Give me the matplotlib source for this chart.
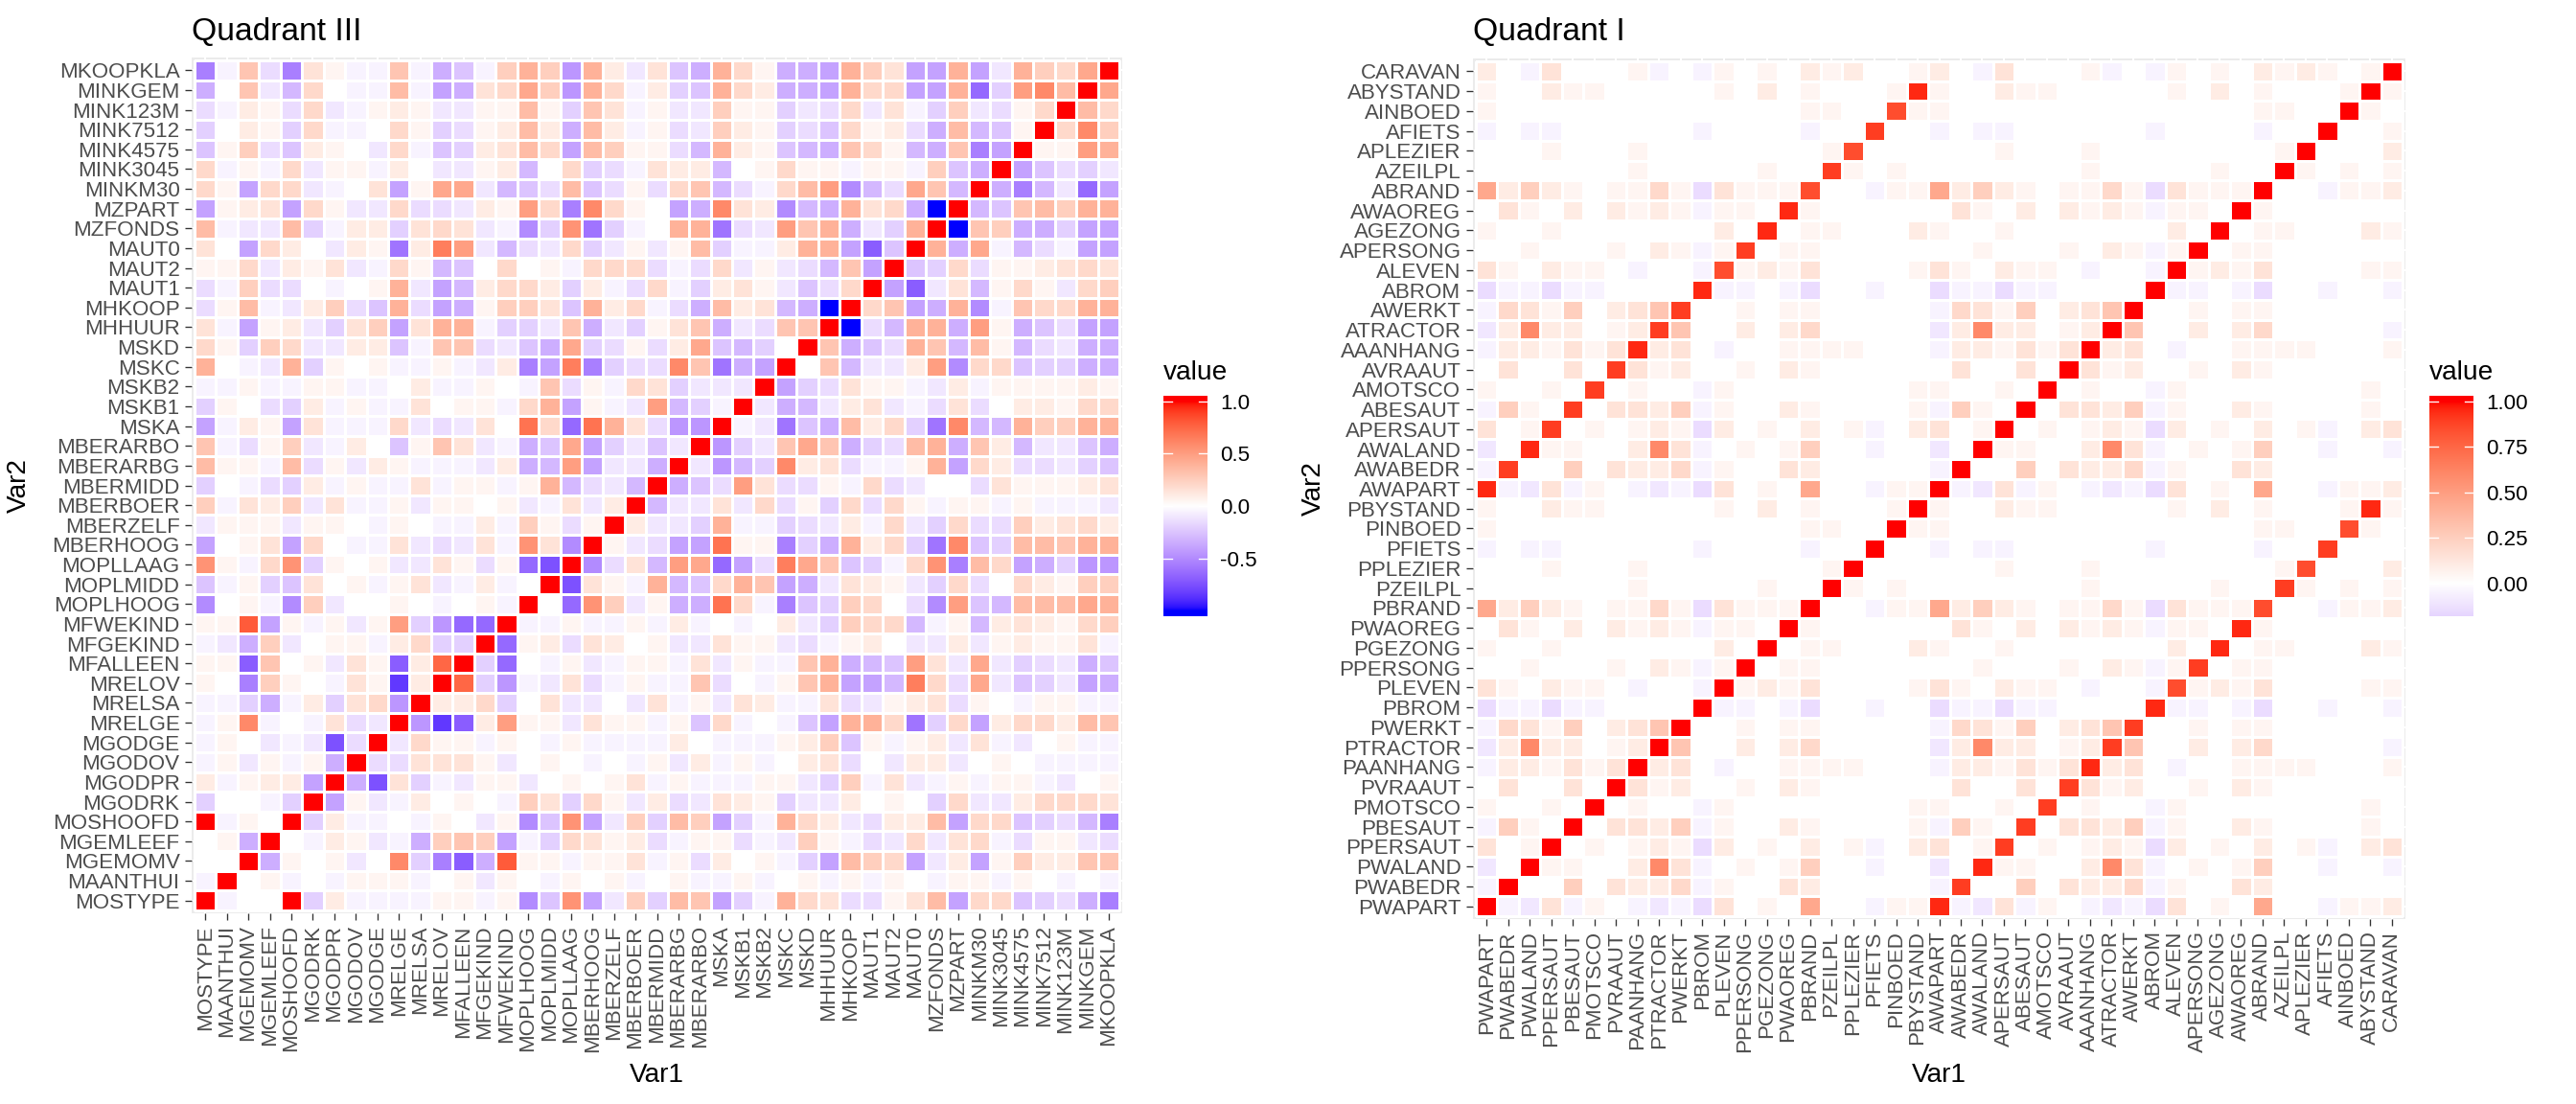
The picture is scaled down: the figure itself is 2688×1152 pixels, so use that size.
import numpy as np
import matplotlib
matplotlib.use("Agg")
import matplotlib.pyplot as plt
from matplotlib.colors import ListedColormap, Normalize

plt.rcParams['font.family'] = ['Liberation Sans', 'DejaVu Sans']

W, H, DPI = 2688, 1152, 192

# ---- data -----------------------------------------------------------------
left_vars = ["MOSTYPE", "MAANTHUI", "MGEMOMV", "MGEMLEEF", "MOSHOOFD", "MGODRK",
             "MGODPR", "MGODOV", "MGODGE", "MRELGE", "MRELSA", "MRELOV", "MFALLEEN",
             "MFGEKIND", "MFWEKIND", "MOPLHOOG", "MOPLMIDD", "MOPLLAAG", "MBERHOOG",
             "MBERZELF", "MBERBOER", "MBERMIDD", "MBERARBG", "MBERARBO", "MSKA",
             "MSKB1", "MSKB2", "MSKC", "MSKD", "MHHUUR", "MHKOOP", "MAUT1", "MAUT2",
             "MAUT0", "MZFONDS", "MZPART", "MINKM30", "MINK3045", "MINK4575",
             "MINK7512", "MINK123M", "MINKGEM", "MKOOPKLA"]

p_vars = ["PWAPART", "PWABEDR", "PWALAND", "PPERSAUT", "PBESAUT", "PMOTSCO",
          "PVRAAUT", "PAANHANG", "PTRACTOR", "PWERKT", "PBROM", "PLEVEN",
          "PPERSONG", "PGEZONG", "PWAOREG", "PBRAND", "PZEILPL", "PPLEZIER",
          "PFIETS", "PINBOED", "PBYSTAND"]
a_vars = ["AWAPART", "AWABEDR", "AWALAND", "APERSAUT", "ABESAUT", "AMOTSCO",
          "AVRAAUT", "AAANHANG", "ATRACTOR", "AWERKT", "ABROM", "ALEVEN",
          "APERSONG", "AGEZONG", "AWAOREG", "ABRAND", "AZEILPL", "APLEZIER",
          "AFIETS", "AINBOED", "ABYSTAND"]
right_vars = p_vars + a_vars + ["CARAVAN"]

# cell codes: '.' = 0, 'A'..'T' = +0.05..+1.00,
# 'a'..'t' = -0.05..-1.00 (steps of 0.05); row i lists columns 0..i-1
left_lower = [
    "a",
    "..",
    ".Ag",
    "TaA.",
    "d..ad",
    "BaABBh",
    "aAbAaAg",
    "aA.baboc",
    "aALa.aCcb",
    "aadgaBdCDi",
    "A.kEA.aCAqB",
    "AAnF.AbCAnBO",
    "abgEb.AAaBDdd",
    "AAPhAaAbAJdimm",
    "j.AajEb..A.a.Aa",
    "eaAdeC.AaACbaBa.",
    "KAaDKdA.AbbCAcAmo",
    "h.AChD.aaCbcbCaKCj",
    "bAAAbAA.aA.aaBaEAcA",
    "EaCBEbCaaAbAA.AbaCbB",
    "d.acdBaAaaCaAAaAHfcbf",
    "GAAaGcAbBAaaabBgfJhbbg",
    "FacAEbaB.eAFCbageIhdbeb",
    "haBAhCaaaDbcbC.NDmNHCcii",
    "dA.cdBaAaaC.AAaDHhAabJfda",
    "aaAaaAAaa.BaaA.aFcAaDCdbbb",
    "H.abHdA.AaaAabBkhMkdccLFlgh",
    "DAdEDbbBBeaFFcbegIdcAcBIefd.",
    "CahABbdCEhCHHaddbFgbdACFgbcFF",
    "cAGabBEceHchgAEECeHBDacgGBCfgt",
    "caEcc.a.AHbhfBDDBdBacDadBCAbecD",
    "AADbBACbaDAfe.D.AaDDDcacDbAbcfFh",
    "C.hDB.bBAlBMJbfcbDdbAbAGdaaBHHhne",
    "GabbGdaBBdCDCbajdKlda.HHlcbJFHgbdH",
    "hABChDAbbDccbBAJDkLDA.hgLCBjfgHCDgt",
    "DAhDDba.ChAIIbfecGecAcDFfcaDGJjfcIFf",
    "DaAaDbAAaB.bbABf.DdcaCBBf.ADAAaAAaEeg",
    "eAEceBA.bDaedBCGDhGEAAcfHBAefgFDAfgFkh",
    "d.BAdDaa.DAdcABGBgGBaAcbEBAdceDABcgGfeA",
    "caBAcDbaABAbbAAGAdFCaAbbEAAdbcDbCadEbcAD",
    "g.FbfD.aaGahgCDIEiHDaBdeHDBgghHDDhhHmdJLG",
    "kaFckCAaaFageaEHEiHBbCegHDAgghHEChhHhbHEDI",
]

# P-block (the A-block and the P-vs-A block look the same in the picture)
pp_lower = [
    "a",
    "b.",
    "C.A",
    "aEA.",
    "A..A.",
    ".C..C.",
    "aBBACAC",
    "bBLBB.AB",
    "aDCAE.BCF",
    "caacaa....",
    "CA.BAA.a..a",
    "..A...A.BAaA",
    "A..A.......B.",
    ".CA.B.BABAaAA.",
    "IBEBA.AADAcCAAA",
    ".......A.....A..",
    "...A...A........A",
    "a.aa......a....a..",
    "A..............AA..",
    "A..BAA.....A.B.A...A",
]
pa_diag = "SRSRRRRSRRSQRSSQRQRQS"   # P_k vs A_k
caravan_p = "B.aC...Aa.aA.A.BAB..A"
caravan_a = "B.aC...Aa.aA.A.BABA.A"


def decode(ch):
    if ch == '.':
        return 0.0
    if ch.isupper():
        return (ord(ch) - 64) * 0.05
    return -(ord(ch) - 96) * 0.05


def full_from_lower(rows, n):
    m = np.eye(n)
    for i, s in enumerate(rows, start=1):
        assert len(s) == i, (i, s)
        for j, ch in enumerate(s):
            m[i, j] = m[j, i] = decode(ch)
    return m


left_mat = full_from_lower(left_lower, 43)

pp = full_from_lower(pp_lower, 21)
cross = pp.copy()
np.fill_diagonal(cross, [decode(c) for c in pa_diag])
right_mat = np.eye(43)
right_mat[:21, :21] = pp
right_mat[21:42, 21:42] = pp
right_mat[21:42, :21] = cross
right_mat[:21, 21:42] = cross.T
car = np.array([decode(c) for c in caravan_p + caravan_a])
right_mat[42, :42] = car
right_mat[:42, 42] = car

# ---- blue-white-red gradient interpolated in CIELAB (like ggplot) ----------
RGB2XYZ = np.array([[0.4124564, 0.3575761, 0.1804375],
                    [0.2126729, 0.7151522, 0.0721750],
                    [0.0193339, 0.1191920, 0.9503041]])
WHITE = np.array([0.95047, 1.0, 1.08883])


def rgb2lab(rgb):
    rgb = np.atleast_2d(np.asarray(rgb, float))
    lin = np.where(rgb <= 0.04045, rgb / 12.92, ((rgb + 0.055) / 1.055) ** 2.4)
    xyz = lin @ RGB2XYZ.T / WHITE
    f = np.where(xyz > 0.008856, np.cbrt(xyz), 7.787 * xyz + 16 / 116)
    return np.stack([116 * f[:, 1] - 16, 500 * (f[:, 0] - f[:, 1]),
                     200 * (f[:, 1] - f[:, 2])], 1)


def lab2rgb(lab):
    fy = (lab[:, 0] + 16) / 116
    f = np.stack([fy + lab[:, 1] / 500, fy, fy - lab[:, 2] / 200], 1)
    xyz = np.where(f ** 3 > 0.008856, f ** 3, (f - 16 / 116) / 7.787) * WHITE
    lin = np.clip(xyz @ np.linalg.inv(RGB2XYZ).T, 0, 1)
    rgb = np.where(lin <= 0.0031308, 12.92 * lin, 1.055 * lin ** (1 / 2.4) - 0.055)
    return np.clip(rgb, 0, 1)


lab_b, lab_w, lab_r = rgb2lab([[0, 0, 1], [1, 1, 1], [1, 0, 0]])
t = np.linspace(0, 1, 256)[:, None]
lab_cols = np.vstack([lab_b + (lab_w - lab_b) * t, lab_w + (lab_r - lab_w) * t[1:]])
cmap = ListedColormap(lab2rgb(lab_cols))
norm = Normalize(-1, 1)

fig = plt.figure(figsize=(W / DPI, H / DPI), dpi=DPI)


def px_axes(x0, y0, x1, y1):
    return fig.add_axes([x0 / W, 1 - y1 / H, (x1 - x0) / W, (y1 - y0) / H])


def draw_heatmap(tiles, mat, labels, title, var2_x):
    x0, y0, x1, y1 = tiles
    n = len(labels)
    ex = 0.13
    ux, uy = (x1 - x0) / n, (y1 - y0) / n
    ax = px_axes(x0 - ex * ux, y0 - ex * uy, x1 + ex * ux, y1 + ex * uy)
    ax.set_facecolor('#EBEBEB')
    ax.set_axisbelow(True)
    ax.grid(True, color='white', linewidth=0.75)
    edges = np.arange(n + 1) - 0.5
    ax.pcolormesh(edges, edges, mat, cmap=cmap, norm=norm,
                  edgecolors='white', linewidth=0.45)
    ax.set_xlim(-0.5 - ex, n - 0.5 + ex)
    ax.set_ylim(-0.5 - ex, n - 0.5 + ex)
    ax.set_xticks(range(n))
    ax.set_xticklabels(labels, rotation=90)
    ax.set_yticks(range(n))
    ax.set_yticklabels(labels)
    for s in ax.spines.values():
        s.set_visible(False)
    ax.tick_params(length=2.6, width=0.5, color='#333333', labelsize=8.4,
                   labelcolor='#4D4D4D', pad=2.1)
    fig.text((x0 - ex * ux) / W, 1 - 42 / H, title, fontsize=12.6,
             ha='left', va='baseline')
    fig.text((x0 + x1) / 2 / W, 1 - 1122 / H, 'Var1', fontsize=10.5,
             ha='center', va='center')
    fig.text(var2_x / W, 1 - (y0 + y1) / 2 / H, 'Var2', fontsize=10.5,
             ha='center', va='center', rotation=90)


def draw_colorbar(x_px, lo, hi, ticks, labels):
    pad = (hi - lo) / 38
    ax = px_axes(x_px, 413, x_px + 46, 643)
    grad = np.linspace(hi + pad, lo - pad, 400)[:, None]
    ax.imshow(grad, aspect='auto', cmap=cmap, norm=norm,
              extent=[0, 1, lo - pad, hi + pad], interpolation='bilinear')
    ax.set_xlim(0, 1)
    ax.set_ylim(lo - pad, hi + pad)
    for tv in ticks:
        ax.plot([0, 0.2], [tv, tv], color='white', lw=0.5)
        ax.plot([0.8, 1], [tv, tv], color='white', lw=0.5)
    ax.set_xticks([])
    ax.yaxis.tick_right()
    ax.set_yticks(ticks)
    ax.set_yticklabels(labels)
    ax.tick_params(axis='y', length=0, pad=5, labelsize=8.4, labelcolor='black')
    for s in ax.spines.values():
        s.set_visible(False)
    fig.text(x_px / W, 1 - 396 / H, 'value', fontsize=10.5, ha='left',
             va='baseline')


draw_heatmap((203, 63, 1168, 950), left_mat, left_vars, 'Quadrant III', 20)
draw_heatmap((1540, 64, 2507, 956), right_mat, right_vars, 'Quadrant I', 1371)

draw_colorbar(1214, left_mat.min(), left_mat.max(), [-0.5, 0, 0.5, 1.0],
              ['-0.5', '0.0', '0.5', '1.0'])
draw_colorbar(2535, right_mat.min(), right_mat.max(), [0, 0.25, 0.5, 0.75, 1.0],
              ['0.00', '0.25', '0.50', '0.75', '1.00'])

fig.savefig('out.png', dpi=DPI, facecolor='white')
